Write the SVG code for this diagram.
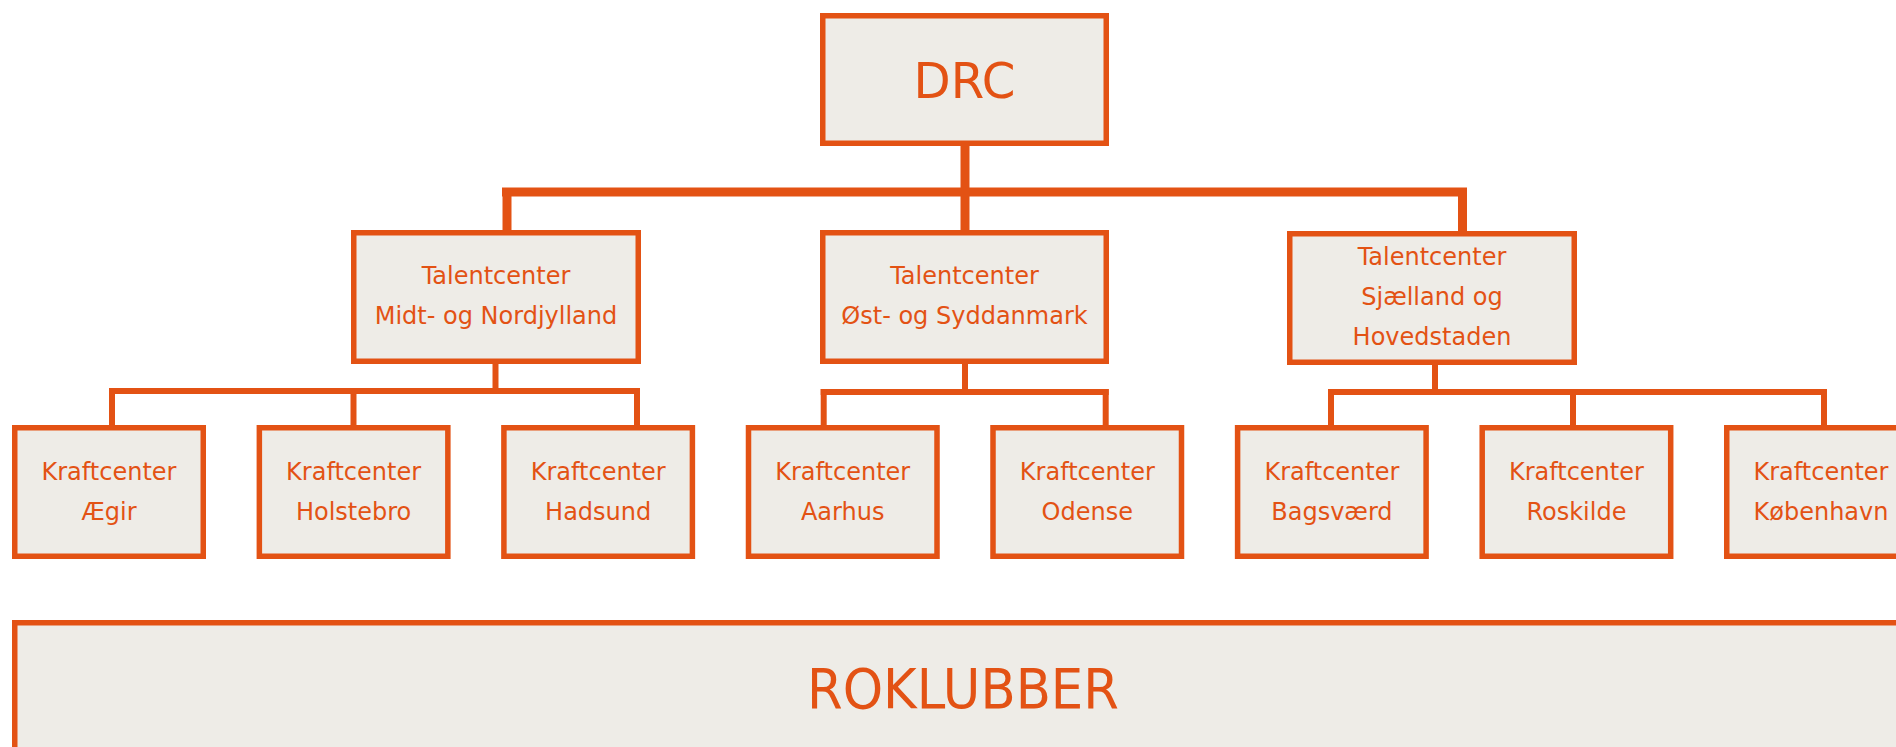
<svg xmlns="http://www.w3.org/2000/svg" width="1896" height="747" viewBox="0 0 1896 747">
<style>
.box{fill:#EEECE7;stroke:#E35214;stroke-width:5.5}
.t{font-family:"DejaVu Sans",sans-serif;font-size:24px;fill:#E35214;text-anchor:middle}
.big{font-family:"DejaVu Sans",sans-serif;fill:#E35214;text-anchor:middle}
.c1{stroke:#E35214;stroke-width:9;fill:none}
.c2{stroke:#E35214;stroke-width:6;fill:none}
</style>
<rect width="1896" height="747" fill="#FFFFFF"/>
<g id="connectors">
<line class="c1" x1="965" y1="146" x2="965" y2="231"/>
<line class="c1" x1="502" y1="192" x2="1467" y2="192"/>
<line class="c1" x1="507" y1="188" x2="507" y2="231"/>
<line class="c1" x1="1462.5" y1="188" x2="1462.5" y2="231"/>
<line class="c2" x1="495.5" y1="363" x2="495.5" y2="391"/>
<line class="c2" x1="109" y1="391" x2="640" y2="391"/>
<line class="c2" x1="112" y1="388" x2="112" y2="426"/>
<line class="c2" x1="353.5" y1="388" x2="353.5" y2="426"/>
<line class="c2" x1="637" y1="388" x2="637" y2="426"/>
<line class="c2" x1="965" y1="363" x2="965" y2="392"/>
<line class="c2" x1="820.7" y1="392" x2="1108.7" y2="392"/>
<line class="c2" x1="823.7" y1="389" x2="823.7" y2="426"/>
<line class="c2" x1="1105.7" y1="389" x2="1105.7" y2="426"/>
<line class="c2" x1="1435" y1="364" x2="1435" y2="392"/>
<line class="c2" x1="1328" y1="392" x2="1827" y2="392"/>
<line class="c2" x1="1331" y1="389" x2="1331" y2="426"/>
<line class="c2" x1="1573" y1="389" x2="1573" y2="426"/>
<line class="c2" x1="1824" y1="389" x2="1824" y2="426"/>
</g>
<g id="drc">
<rect class="box" x="822.75" y="15.75" width="283.5" height="127.5"/>
<text class="big" x="964.5" y="98" font-size="50" textLength="102" lengthAdjust="spacingAndGlyphs">DRC</text>
</g>
<g id="talent1">
<rect class="box" x="353.75" y="232.75" width="284.5" height="128.5"/>
<text class="t" x="496" y="284">Talentcenter</text>
<text class="t" x="496" y="324">Midt- og Nordjylland</text>
</g>
<g id="talent2">
<rect class="box" x="822.75" y="232.75" width="283.5" height="128.5"/>
<text class="t" x="964.5" y="284">Talentcenter</text>
<text class="t" x="964.5" y="324">Øst- og Syddanmark</text>
</g>
<g id="talent3">
<rect class="box" x="1289.75" y="233.75" width="284.5" height="128.5"/>
<text class="t" x="1432" y="265">Talentcenter</text>
<text class="t" x="1432" y="305">Sjælland og</text>
<text class="t" x="1432" y="345">Hovedstaden</text>
</g>
<g id="k-aegir">
<rect class="box" x="14.75" y="427.75" width="188.5" height="128.5"/>
<text class="t" x="109" y="480">Kraftcenter</text>
<text class="t" x="109" y="520">Ægir</text>
</g>
<g id="k-holstebro">
<rect class="box" x="259.35" y="427.75" width="188.5" height="128.5"/>
<text class="t" x="353.6" y="480">Kraftcenter</text>
<text class="t" x="353.6" y="520">Holstebro</text>
</g>
<g id="k-hadsund">
<rect class="box" x="503.9" y="427.75" width="188.5" height="128.5"/>
<text class="t" x="598.2" y="480">Kraftcenter</text>
<text class="t" x="598.2" y="520">Hadsund</text>
</g>
<g id="k-aarhus">
<rect class="box" x="748.5" y="427.75" width="188.5" height="128.5"/>
<text class="t" x="842.7" y="480">Kraftcenter</text>
<text class="t" x="842.7" y="520">Aarhus</text>
</g>
<g id="k-odense">
<rect class="box" x="993" y="427.75" width="188.5" height="128.5"/>
<text class="t" x="1087.3" y="480">Kraftcenter</text>
<text class="t" x="1087.3" y="520">Odense</text>
</g>
<g id="k-bagsvaerd">
<rect class="box" x="1237.6" y="427.75" width="188.5" height="128.5"/>
<text class="t" x="1331.9" y="480">Kraftcenter</text>
<text class="t" x="1331.9" y="520">Bagsværd</text>
</g>
<g id="k-roskilde">
<rect class="box" x="1482.2" y="427.75" width="188.5" height="128.5"/>
<text class="t" x="1576.4" y="480">Kraftcenter</text>
<text class="t" x="1576.4" y="520">Roskilde</text>
</g>
<g id="k-kobenhavn">
<rect class="box" x="1726.75" y="427.75" width="188.5" height="128.5"/>
<text class="t" x="1821" y="480">Kraftcenter</text>
<text class="t" x="1821" y="520">København</text>
</g>
<g id="roklubber">
<rect class="box" x="14.75" y="622.75" width="2000" height="200"/>
<text class="big" x="963" y="708" font-size="55" textLength="312" lengthAdjust="spacingAndGlyphs">ROKLUBBER</text>
</g>
</svg>
